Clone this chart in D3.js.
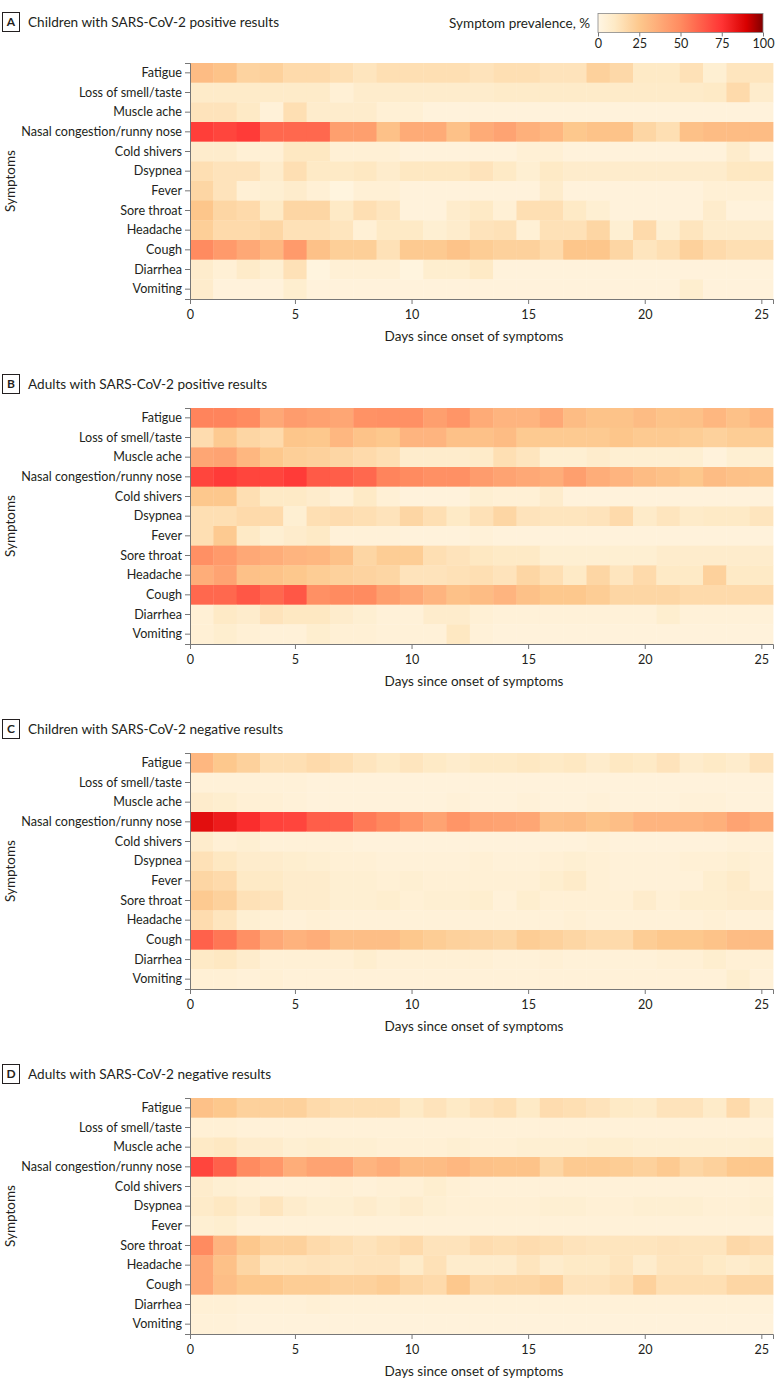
<!DOCTYPE html>
<html>
<head>
<meta charset="utf-8">
<script src="https://cdn.jsdelivr.net/npm/d3@7"></script>
<style>
  body { margin: 0; background: #fff; }
  svg text { font-family: Lato, "Open Sans", sans-serif; fill: #231f20; }
</style>
</head>
<body>
<div class="chart"></div>
<script>
// Data: symptom prevalence (%) by day since onset, rows follow "symptoms"
var symptoms = ["Fatigue", "Loss of smell/taste", "Muscle ache", "Nasal congestion/runny nose",
  "Cold shivers", "Dsypnea", "Fever", "Sore throat", "Headache", "Cough", "Diarrhea", "Vomiting"];

var days = [1, 2, 3, 4, 5, 6, 7, 8, 9, 10, 11, 12, 13, 14, 15, 16, 17, 18, 19, 20, 21, 22, 23, 24, 25];

var dayTicks = [0, 5, 10, 15, 20, 25];
var legendTicks = [0, 25, 50, 75, 100];

var panelTitles = [
  "Children with SARS-CoV-2 positive results",
  "Adults with SARS-CoV-2 positive results",
  "Children with SARS-CoV-2 negative results",
  "Adults with SARS-CoV-2 negative results"
];
var panelLetters = ["A", "B", "C", "D"];

var childPos = [
  [30,27,20,21,17,17,15,12,15,15,15,15,13,15,15,13,13,21,18,10,10,14,6,12,12],
  [9,9,9,9,9,9,5,8,8,8,8,8,8,9,9,9,9,9,9,9,9,9,10,17,8],
  [13,13,10,4,15,8,8,8,5,5,3,3,3,3,3,3,3,3,3,3,3,3,3,3,3],
  [72,70,73,60,60,60,42,42,28,37,37,28,37,40,35,32,25,27,27,19,15,28,30,30,30],
  [8,8,5,5,11,11,5,5,5,3,3,3,3,3,5,5,3,3,3,3,3,3,3,8,3],
  [15,13,13,8,15,10,10,11,8,11,11,11,13,10,6,10,8,8,8,8,8,8,8,11,11],
  [19,13,5,6,8,5,2,5,5,3,3,3,3,3,3,8,3,3,3,3,3,3,5,5,5],
  [26,19,17,10,19,19,10,15,12,3,3,8,10,5,15,15,10,6,3,3,3,3,8,3,3],
  [22,17,17,19,14,14,12,5,10,10,6,8,13,14,5,14,14,19,6,17,6,12,8,8,8],
  [50,44,38,32,44,28,22,22,14,24,24,27,23,21,21,17,26,26,19,12,15,21,17,15,15],
  [8,5,9,6,14,2,5,5,5,2,7,7,10,3,3,3,3,3,3,3,3,3,3,3,3],
  [8,3,3,3,7,3,3,3,3,3,3,3,3,3,3,3,3,3,3,3,3,7,3,3,3]
];

var adultPos = [
  [52,52,50,38,43,41,39,47,48,48,42,46,37,33,33,38,30,27,27,30,27,28,32,28,32],
  [16,24,19,17,26,25,32,27,25,33,33,28,28,30,24,24,24,24,26,24,24,23,21,23,23],
  [39,40,32,25,22,21,19,17,15,8,8,8,9,15,12,6,6,8,6,6,6,6,3,6,6],
  [70,73,70,70,73,64,63,60,52,50,48,48,43,40,38,36,42,36,33,30,28,25,30,28,27],
  [25,25,15,10,10,8,5,10,5,3,3,3,6,5,5,8,3,3,3,3,3,3,3,3,3],
  [15,15,17,17,6,15,16,15,13,19,15,10,14,19,13,12,12,13,17,9,12,9,10,10,12],
  [15,24,10,6,8,10,4,4,4,3,3,3,4,3,3,3,3,3,3,3,3,3,3,3,3],
  [48,44,38,36,33,32,28,19,23,23,15,13,11,10,10,6,6,6,6,6,8,8,8,8,8],
  [36,40,28,27,25,23,21,20,19,13,13,14,15,13,19,15,10,19,12,17,10,10,21,10,10],
  [60,60,65,60,65,48,50,50,42,38,33,28,30,33,28,25,25,23,19,19,19,17,17,17,17],
  [5,10,8,13,11,11,8,6,4,4,8,8,5,4,4,4,4,4,4,4,7,4,4,4,4],
  [5,7,5,4,4,7,5,5,4,4,4,11,4,3,3,3,3,3,3,3,3,3,3,3,3]
];

var childNeg = [
  [32,25,21,15,15,17,15,12,10,12,10,8,10,10,11,10,11,8,11,10,13,8,10,8,13],
  [4,4,4,4,4,3,3,3,3,3,3,3,3,3,3,3,3,3,3,3,3,3,3,3,3],
  [8,7,5,5,4,3,3,3,3,3,3,4,3,3,4,3,3,4,3,3,3,4,4,3,3],
  [86,82,77,71,70,63,62,55,51,45,40,46,41,40,39,29,30,27,29,33,33,33,35,40,37],
  [8,5,6,4,4,4,4,3,3,3,3,3,3,3,3,3,3,4,3,3,3,3,3,4,4],
  [14,11,8,8,7,6,5,5,4,4,4,4,5,4,4,5,6,5,4,4,4,5,5,6,5],
  [19,17,10,10,8,8,6,6,5,6,5,5,5,5,5,7,9,5,4,4,4,4,7,9,5],
  [24,21,14,13,8,8,6,6,7,5,6,6,7,4,7,5,5,5,5,8,5,7,7,8,8],
  [16,12,6,5,4,5,4,4,4,4,4,4,4,4,4,4,5,4,4,4,4,4,5,4,4],
  [62,56,48,38,34,36,29,29,29,25,23,21,20,19,23,21,19,17,17,23,25,25,27,30,30],
  [10,11,8,5,5,5,5,7,5,5,5,5,5,4,4,5,4,4,4,4,5,5,7,5,5],
  [5,5,4,5,4,4,4,4,4,4,4,4,4,4,4,4,4,4,4,4,4,4,4,7,4]
];

var adultNeg = [
  [28,25,21,21,21,17,15,15,15,10,13,10,13,15,10,16,15,13,10,9,13,13,9,17,8],
  [5,5,4,4,4,4,4,4,4,4,4,4,4,4,4,4,4,4,4,4,4,4,4,4,4],
  [10,11,8,8,6,7,6,6,5,5,5,6,5,5,6,6,6,7,7,6,6,6,6,6,7],
  [70,62,50,45,36,40,40,33,36,30,30,32,28,27,27,19,24,24,23,21,24,19,21,25,25],
  [8,6,5,4,4,4,5,4,5,5,7,5,4,4,4,4,4,4,4,4,4,4,4,4,5],
  [9,11,8,12,8,6,6,8,6,8,6,5,5,5,5,6,6,5,5,6,6,6,5,5,6],
  [6,7,4,4,4,4,4,4,4,4,4,4,4,4,4,4,4,4,4,4,4,4,4,4,4],
  [50,33,25,21,21,17,15,13,15,17,13,13,16,15,16,15,13,12,12,12,13,12,12,18,16],
  [38,28,19,12,12,13,12,13,13,9,14,8,8,8,12,8,10,10,12,8,12,12,10,8,10],
  [38,29,25,25,23,23,21,21,23,19,17,25,18,19,19,21,13,13,15,21,15,15,15,19,19],
  [5,5,4,4,4,5,4,4,4,4,4,4,4,4,4,4,4,4,4,4,4,4,4,4,4],
  [4,4,3,3,3,3,3,3,3,3,3,3,3,3,3,3,3,3,3,3,3,3,3,3,3]
];

var panelData = [childPos, adultPos, childNeg, adultNeg];

// Layout
var width = 780,
  height = 1391,
  left = 190,
  right = 773,
  mapHeight = 236,
  panelTops = [63, 408, 753, 1098],
  titleOffsets = [41, 24, 24, 24],
  axisColor = "#777";

var svg = d3.select(".chart").append("svg")
  .attr("width", width)
  .attr("height", height);

var color = d3.scaleLinear()
  .domain([0, 10, 25, 50, 75, 90, 100])
  .range(["#fff6e4", "#feeac6", "#fdc88d", "#ff8b60", "#ff3434", "#d80000", "#800000"])
  .clamp(true);

// cells are centred on their day; left edge labelled 0
var x = d3.scaleLinear()
  .domain([0.5, 25.5])
  .range([left, right]);

function drawPanel(p) {
  var top = panelTops[p],
    values = panelData[p],
    g = svg.append("g");

  var y = d3.scaleBand()
    .domain(symptoms)
    .range([top, top + mapHeight]);

  // panel title
  var ty = top - titleOffsets[p];
  g.append("rect")
    .attr("x", 2.5).attr("y", ty - 9.5)
    .attr("width", 17).attr("height", 19)
    .attr("fill", "none")
    .attr("stroke", "#231f20");
  g.append("text")
    .attr("x", 11).attr("y", ty)
    .attr("dy", "0.35em")
    .attr("text-anchor", "middle")
    .style("font-weight", "bold")
    .style("font-size", "12px")
    .text(panelLetters[p]);
  g.append("text")
    .attr("x", 28).attr("y", ty)
    .attr("dy", "0.35em")
    .style("font-size", "13.6px")
    .text(panelTitles[p]);

  // cells
  var cells = [];
  values.forEach(function(row, i) {
    row.forEach(function(v, j) {
      cells.push({ symptom: symptoms[i], day: days[j], value: v });
    });
  });

  g.append("g").selectAll("rect")
    .data(cells)
    .enter().append("rect")
    .attr("x", function(d) { return x(d.day - 0.5); })
    .attr("y", function(d) { return y(d.symptom); })
    .attr("width", x(1.5) - x(0.5) + 0.4)
    .attr("height", y.bandwidth() + 0.4)
    .attr("fill", function(d) { return color(d.value); });

  // y axis
  var yAxis = g.append("g")
    .attr("transform", "translate(" + left + ",0)")
    .call(d3.axisLeft(y).tickSize(5).tickPadding(3));
  yAxis.selectAll("text").style("font-size", "12.6px").attr("fill", "#231f20");
  yAxis.selectAll("line").attr("stroke", axisColor);
  yAxis.select(".domain").attr("stroke", axisColor);

  // x axis
  var xAxis = g.append("g")
    .attr("transform", "translate(0," + (top + mapHeight) + ")")
    .call(d3.axisBottom(x)
      .tickValues(dayTicks.map(function(t) { return t === 0 ? 0.5 : t; }))
      .tickFormat(function(t) { return t === 0.5 ? "0" : t; })
      .tickSize(5)
      .tickPadding(6));
  xAxis.selectAll("text").style("font-size", "12.6px").attr("fill", "#231f20");
  xAxis.selectAll("line").attr("stroke", axisColor);
  xAxis.select(".domain").attr("stroke", axisColor);

  g.append("text")
    .attr("x", 474)
    .attr("y", top + mapHeight + 42)
    .attr("text-anchor", "middle")
    .style("font-size", "13.5px")
    .text("Days since onset of symptoms");

  g.append("text")
    .attr("transform", "translate(10," + (top + mapHeight / 2) + ") rotate(-90)")
    .attr("dy", "0.35em")
    .attr("text-anchor", "middle")
    .style("font-size", "13.5px")
    .text("Symptoms");
}

panelData.forEach(function(d, i) { drawPanel(i); });

// Legend
var lx = d3.scaleLinear().domain([0, 100]).range([598, 763]);
var defs = svg.append("defs");
var grad = defs.append("linearGradient").attr("id", "legendGrad");
d3.range(0, 101, 5).forEach(function(v) {
  grad.append("stop").attr("offset", v + "%").attr("stop-color", color(v));
});

svg.append("rect")
  .attr("x", lx(0)).attr("y", 13.5)
  .attr("width", lx(100) - lx(0)).attr("height", 19)
  .attr("fill", "url(#legendGrad)")
  .attr("stroke", "#888")
  .attr("stroke-width", 0.8);

var legendAxis = svg.append("g")
  .attr("transform", "translate(0,32.5)")
  .call(d3.axisBottom(lx).tickValues(legendTicks).tickSize(4).tickPadding(3));
legendAxis.select(".domain").remove();
legendAxis.selectAll("line").attr("stroke", axisColor);
legendAxis.selectAll("text").style("font-size", "12.6px").attr("fill", "#231f20");

svg.append("text")
  .attr("x", 590).attr("y", 23)
  .attr("dy", "0.35em")
  .attr("text-anchor", "end")
  .style("font-size", "13.5px")
  .text("Symptom prevalence, %");
</script>
</body>
</html>
